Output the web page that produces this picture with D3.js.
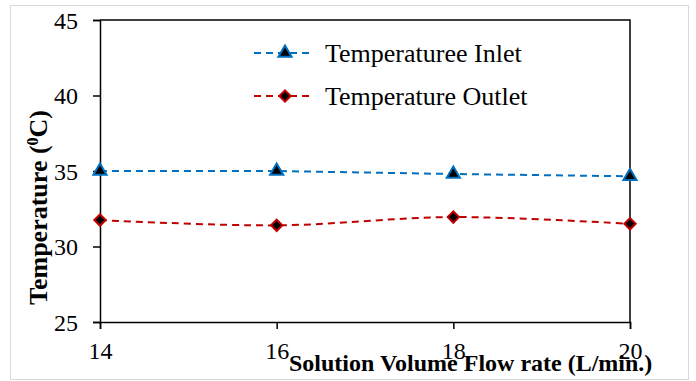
<!DOCTYPE html>
<html><head><meta charset="utf-8">
<script src="https://cdn.jsdelivr.net/npm/d3@7"></script>
<style>body{margin:0;background:#fff}svg{display:block}</style>
</head><body>
<script>
const flowRates = [14, 16, 18, 20];
const inletTemps = [35.0, 35.0, 34.8, 34.65];
const outletTemps = [31.75, 31.4, 31.95, 31.5];
const yTicks = [25, 30, 35, 40, 45];
const xTicks = [14, 16, 18, 20];
const seriesNames = ["Temperaturee Inlet", "Temperature Outlet"];

const W = 696, H = 381;
const svg = d3.select("body").append("svg").attr("width", W).attr("height", H);
const font = "'Liberation Serif'";

svg.append("rect").attr("x", 10.5).attr("y", 5.5).attr("width", 678).attr("height", 374)
  .attr("fill", "#fff").attr("stroke", "#d9d9d9");

const L = 100, R = 630, T = 20, B = 322;
const x = d3.scaleLinear().domain([14, 20]).range([L, R]);
const y = d3.scaleLinear().domain([25, 45]).range([B, T]);

svg.append("path").attr("d", `M${L},${T}H${R}V${B}`).attr("fill", "none").attr("stroke", "#000").attr("stroke-width", 1.5);

const yAxis = svg.append("g").attr("transform", `translate(${L},0)`)
  .call(d3.axisLeft(y).tickValues(yTicks).tickFormat(d3.format("d")).tickSize(7).tickPadding(15));
const xAxis = svg.append("g").attr("transform", `translate(0,${B})`)
  .call(d3.axisBottom(x).tickValues(xTicks).tickFormat(d3.format("d")).tickSize(7));
[yAxis, xAxis].forEach(a => {
  a.attr("font-family", null).attr("font-size", null);
  a.select(".domain").attr("stroke", "#000").attr("stroke-width", 1.5);
  a.selectAll(".tick line").attr("stroke", "#000").attr("stroke-width", 1.5);
  a.selectAll("text").style("font-family", font).style("font-size", "24px").attr("fill", "#000");
});
yAxis.selectAll("text").attr("dy", "0.34em");
xAxis.selectAll("text").attr("y", 37).attr("dy", 0);

const series = [
  {name: seriesNames[0], values: inletTemps, color: "#0070C0", marker: "tri", curve: d3.curveLinear},
  {name: seriesNames[1], values: outletTemps, color: "#C00000", marker: "dia", curve: d3.curveCatmullRom}
];
const triSym = d3.symbol().type(d3.symbolTriangle).size(75);
const diaSym = d3.symbol().type(d3.symbolSquare).size(64);

function marker(g, type, color, cx, cy) {
  if (type === "tri") {
    g.append("path").attr("d", triSym()).attr("transform", `translate(${cx},${cy})`)
      .attr("fill", "#000").attr("stroke", color).attr("stroke-width", 2);
  } else {
    g.append("path").attr("d", diaSym()).attr("transform", `translate(${cx},${cy}) rotate(45)`)
      .attr("fill", "#000").attr("stroke", color).attr("stroke-width", 2);
  }
}

series.forEach(s => {
  const line = d3.line().x((d, i) => x(flowRates[i])).y(d => y(d)).curve(s.curve);
  svg.append("path").datum(s.values).attr("d", line).attr("fill", "none")
    .attr("stroke", s.color).attr("stroke-width", 2).attr("stroke-dasharray", "7,5");
  const g = svg.append("g");
  s.values.forEach((v, i) => marker(g, s.marker, s.color, x(flowRates[i]), y(v)));
});

series.forEach((s, i) => {
  const ly = 53 + i * 43;
  svg.append("line").attr("x1", 254).attr("x2", 314).attr("y1", ly).attr("y2", ly)
    .attr("stroke", s.color).attr("stroke-width", 2).attr("stroke-dasharray", "7,5");
  marker(svg, s.marker, s.color, 285, ly);
  svg.append("text").attr("x", 325).attr("y", ly + 9).style("font-family", font)
    .style("font-size", "26px").text(s.name);
});

const yt = svg.append("text").attr("transform", "translate(47,305) rotate(-90)")
  .attr("text-anchor", "start").style("font-family", font).style("font-size", "26px").style("font-weight", "bold");
yt.append("tspan").text("Temperature (");
yt.append("tspan").style("font-size", "16px").attr("dy", -9).text("0");
yt.append("tspan").attr("dy", 9).text("C)");

svg.append("text").attr("x", 289).attr("y", 371).style("font-family", font)
  .style("font-size", "24px").style("font-weight", "bold").text("Solution Volume Flow rate (L/min.)");
</script>
</body></html>
